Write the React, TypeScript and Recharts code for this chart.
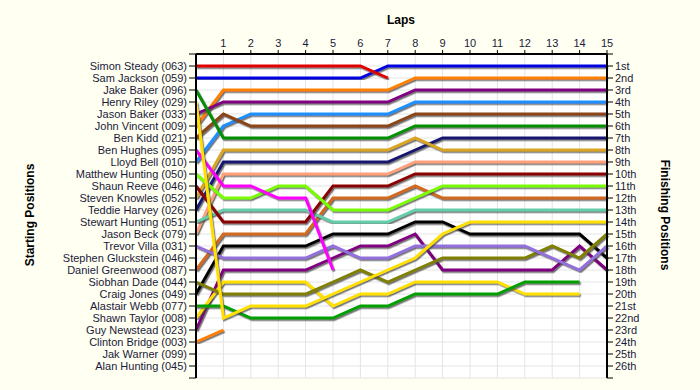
import React from 'react'
import { LineChart, Line, XAxis, YAxis, CartesianGrid } from 'recharts'

const laps = [0, 1, 2, 3, 4, 5, 6, 7, 8, 9, 10, 11, 12, 13, 14, 15]
const lapTicks = [1, 2, 3, 4, 5, 6, 7, 8, 9, 10, 11, 12, 13, 14, 15]
const posTicks = Array.from({ length: 28 }, (_, i) => i)

const starters = [
  'Simon Steady (063)', 'Sam Jackson (059)', 'Jake Baker (096)', 'Henry Riley (029)',
  'Jason Baker (033)', 'John Vincent (009)', 'Ben Kidd (021)', 'Ben Hughes (095)',
  'Lloyd Bell (010)', 'Matthew Hunting (050)', 'Shaun Reeve (046)', 'Steven Knowles (052)',
  'Teddie Harvey (026)', 'Stewart Hunting (051)', 'Jason Beck (079)', 'Trevor Villa (031)',
  'Stephen Gluckstein (046)', 'Daniel Greenwood (087)', 'Siobhan Dade (044)', 'Craig Jones (049)',
  'Alastair Webb (077)', 'Shawn Taylor (008)', 'Guy Newstead (023)', 'Clinton Bridge (003)',
  'Jak Warner (099)', 'Alan Hunting (045)',
]

const finishers = [
  '1st', '2nd', '3rd', '4th', '5th', '6th', '7th', '8th', '9th', '10th', '11th', '12th', '13th',
  '14th', '15th', '16th', '17th', '18th', '19th', '20th', '21st', '22nd', '23rd', '24th', '25th', '26th',
]

// position of each driver at lap 0..15 (null = not running)
const _ = null
const simonSteady = [1, 1, 1, 1, 1, 1, 1, 2, _, _, _, _, _, _, _, _]
const samJackson = [2, 2, 2, 2, 2, 2, 2, 1, 1, 1, 1, 1, 1, 1, 1, 1]
const jakeBaker = [3, 7, 7, 7, 7, 7, 7, 7, 6, 6, 6, 6, 6, 6, 6, 6]
const henryRiley = [4, 22, 21, 21, 21, 20, 19, 18, 17, 15, 14, 14, 14, 14, 14, 14]
const jasonBaker = [5, 4, 4, 4, 4, 4, 4, 4, 3, 3, 3, 3, 3, 3, 3, 3]
const johnVincent = [6, 3, 3, 3, 3, 3, 3, 3, 2, 2, 2, 2, 2, 2, 2, 2]
const benKidd = [7, 5, 6, 6, 6, 6, 6, 6, 5, 5, 5, 5, 5, 5, 5, 5]
const benHughes = [8, 11, 11, 12, 12, 18, _, _, _, _, _, _, _, _, _, _]
const lloydBell = [9, 6, 5, 5, 5, 5, 5, 5, 4, 4, 4, 4, 4, 4, 4, 4]
const matthewHunting = [10, 12, 12, 11, 11, 13, 13, 13, 12, 11, 11, 11, 11, 11, 11, 11]
const shaunReeve = [11, 14, 14, 14, 14, 11, 11, 11, 10, 10, 10, 10, 10, 10, 10, 10]
const stevenKnowles = [12, 8, 8, 8, 8, 8, 8, 8, 7, 8, 8, 8, 8, 8, 8, 8]
const teddieHarvey = [13, 9, 9, 9, 9, 9, 9, 9, 8, 7, 7, 7, 7, 7, 7, 7]
const stewartHunting = [14, 13, 13, 13, 13, 14, 14, 14, 13, 13, 13, 13, 13, 13, 13, 13]
const jasonBeck = [15, 10, 10, 10, 10, 10, 10, 10, 9, 9, 9, 9, 9, 9, 9, 9]
const trevorVilla = [16, 17, 17, 17, 17, 16, 17, 17, 16, 16, 16, 16, 16, 17, 18, 16]
const danielGreenwood = [18, 15, 15, 15, 15, 12, 12, 12, 11, 12, 12, 12, 12, 12, 12, 12]
const siobhanDade = [19, 20, 20, 20, 20, 19, 18, 19, 18, 17, 17, 17, 17, 16, 17, 15]
const craigJones = [20, 16, 16, 16, 16, 15, 15, 15, 14, 14, 15, 15, 15, 15, 15, 17]
const alastairWebb = [21, 21, 22, 22, 22, 22, 21, 21, 20, 20, 20, 20, 19, 19, 19, _]
const shawnTaylor = [22, 19, 19, 19, 19, 21, 20, 20, 19, 19, 19, 19, 20, 20, 20, _]
const guyNewstead = [23, 18, 18, 18, 18, 17, 16, 16, 15, 18, 18, 18, 18, 18, 16, 18]
const clintonBridge = [24, 23, _, _, _, _, _, _, _, _, _, _, _, _, _, _]

const series = [
  { key: 'clintonBridge', values: clintonBridge, color: '#ff8000' },
  { key: 'guyNewstead', values: guyNewstead, color: '#800080' },
  { key: 'shawnTaylor', values: shawnTaylor, color: '#ffe000' },
  { key: 'alastairWebb', values: alastairWebb, color: '#00a000' },
  { key: 'craigJones', values: craigJones, color: '#000000' },
  { key: 'siobhanDade', values: siobhanDade, color: '#808000' },
  { key: 'danielGreenwood', values: danielGreenwood, color: '#d2691e' },
  { key: 'trevorVilla', values: trevorVilla, color: '#9370db' },
  { key: 'jasonBeck', values: jasonBeck, color: '#ffa07a' },
  { key: 'stewartHunting', values: stewartHunting, color: '#66cdaa' },
  { key: 'teddieHarvey', values: teddieHarvey, color: '#191970' },
  { key: 'stevenKnowles', values: stevenKnowles, color: '#daa520' },
  { key: 'shaunReeve', values: shaunReeve, color: '#8b0000' },
  { key: 'matthewHunting', values: matthewHunting, color: '#7cfc00' },
  { key: 'lloydBell', values: lloydBell, color: '#1e90ff' },
  { key: 'benHughes', values: benHughes, color: '#ff00ff' },
  { key: 'benKidd', values: benKidd, color: '#8b4513' },
  { key: 'johnVincent', values: johnVincent, color: '#ff8000' },
  { key: 'jasonBaker', values: jasonBaker, color: '#800080' },
  { key: 'henryRiley', values: henryRiley, color: '#ffe000' },
  { key: 'jakeBaker', values: jakeBaker, color: '#009000' },
  { key: 'samJackson', values: samJackson, color: '#0000e0' },
  { key: 'simonSteady', values: simonSteady, color: '#e00000' },
]

const data = laps.map((lap, i) => {
  const row: Record<string, number | null> = { lap }
  series.forEach(s => { row[s.key] = s.values[i] })
  return row
})

const FONT = 'Liberation Sans, Arial, sans-serif'
const TEXT = '#1a1a3a'
const tickFont = { fontSize: 11, fill: TEXT, fontFamily: FONT }
const titleStyle: React.CSSProperties = {
  position: 'absolute', fontFamily: FONT, fontWeight: 'bold',
  fontSize: 12, color: '#000', whiteSpace: 'nowrap',
}

const FinishTick = (props: any) => {
  const { x, y, payload } = props
  const label = finishers[Number(payload.value) - 1] ?? ''
  return (
    <text x={x} y={y} dy={4} textAnchor="start" fontSize={11} fill={TEXT} fontFamily={FONT}>
      {label}
    </text>
  )
}

export default function App() {
  return (
    <div style={{ position: 'absolute', left: 0, top: 0, width: 700, height: 390, background: '#fffff2' }}>
      <svg width={1} height={1} style={{ position: 'absolute', left: 0, top: 0 }}>
        <defs>
          <filter id="lineShadow" x="-10%" y="-10%" width="120%" height="120%">
            <feDropShadow dx="1.2" dy="1.5" stdDeviation="0.4" floodColor="#444" floodOpacity="0.75" />
          </filter>
        </defs>
      </svg>
      <style>{`.recharts-line path { filter: url(#lineShadow); }`}</style>
      <LineChart width={700} height={390} data={data} margin={{ top: 0, right: 0, bottom: 12, left: 0 }}>
        <CartesianGrid yAxisId="start" stroke="#e4e4e4" fill="#ffffff" />
        <XAxis
          dataKey="lap" type="number" orientation="top" domain={[0, 15]} ticks={lapTicks}
          height={54} tickSize={4} tickMargin={3} interval={0}
          axisLine={{ stroke: '#000', strokeWidth: 2 }} tickLine={{ stroke: '#000' }}
          tick={tickFont}
        />
        <YAxis
          yAxisId="start" type="number" domain={[0, 27]} reversed ticks={posTicks} interval={0}
          width={196} tickSize={7} tickMargin={2}
          tickFormatter={(v: number) => starters[v - 1] ?? ''}
          axisLine={{ stroke: '#000', strokeWidth: 2 }} tickLine={{ stroke: '#000' }}
          tick={tickFont}
        />
        <YAxis
          yAxisId="finish" orientation="right" type="number" domain={[0, 27]} reversed ticks={posTicks}
          interval={0} width={93} tickSize={6} tickMargin={2}
          axisLine={{ stroke: '#000', strokeWidth: 2 }} tickLine={{ stroke: '#000' }}
          tick={<FinishTick />}
        />
        {series.map(s => (
          <Line
            key={s.key}
            yAxisId={s.key === 'samJackson' ? 'finish' : 'start'}
            type="linear"
            dataKey={s.key}
            stroke={s.color}
            strokeWidth={3}
            dot={false}
            activeDot={false}
            isAnimationActive={false}
          />
        ))}
      </LineChart>
      <div style={{ ...titleStyle, left: 401, top: 20, transform: 'translate(-50%, -50%)' }}>Laps</div>
      <div style={{ ...titleStyle, left: 30, top: 215, transform: 'translate(-50%, -50%) rotate(-90deg)' }}>
        Starting Positions
      </div>
      <div style={{ ...titleStyle, left: 665, top: 215, transform: 'translate(-50%, -50%) rotate(90deg)' }}>
        Finishing Positions
      </div>
    </div>
  )
}
